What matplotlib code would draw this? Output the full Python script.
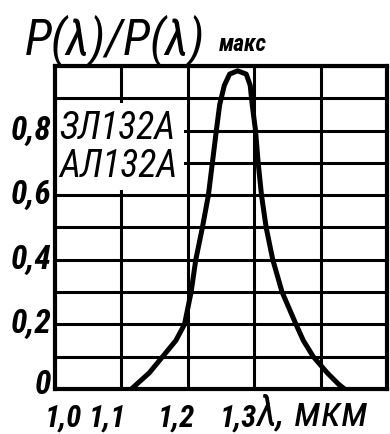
import matplotlib
matplotlib.use("Agg")
import matplotlib.pyplot as plt
from matplotlib.patches import Rectangle

# ---- data ----
wavelength_um = [1.115, 1.142, 1.162, 1.182, 1.195, 1.205, 1.212, 1.222, 1.231, 1.237,
                 1.243, 1.248, 1.255, 1.263, 1.275, 1.288, 1.294, 1.297, 1.302, 1.306,
                 1.311, 1.318, 1.328, 1.342, 1.363, 1.374, 1.389, 1.410, 1.427, 1.436]
rel_power = [0.000, 0.050, 0.100, 0.150, 0.200, 0.300, 0.400, 0.500, 0.600, 0.700,
             0.800, 0.880, 0.940, 0.975, 0.985, 0.975, 0.940, 0.880, 0.800, 0.700,
             0.600, 0.500, 0.400, 0.300, 0.200, 0.150, 0.100, 0.050, 0.015, 0.000]

x_ticks = [1.0, 1.1, 1.2, 1.3, 1.4, 1.5]
x_labels = ["1,0", "1,1", "1,2", "1,3", "", ""]
y_ticks = [0.0, 0.1, 0.2, 0.3, 0.4, 0.5, 0.6, 0.7, 0.8, 0.9, 1.0]
y_labels = ["0", "", "0,2", "", "0,4", "", "0,6", "", "0,8", "", ""]
device_names = ["ЗЛ132А", "АЛ132А"]
x_unit = "λ, мкм"
title_main = "P(λ)/P(λ)"
title_sub = "макс"

FONT = ["Roboto Condensed", "Liberation Sans Narrow", "Roboto", "DejaVu Sans"]
plt.rcParams["font.family"] = FONT

W, H = 390, 434
fig = plt.figure(figsize=(W / 100, H / 100), dpi=100)
ax = fig.add_axes([55 / W, 1 - 389 / H, (387 - 55) / W, (389 - 66) / H])

ax.set_xlim(1.0, 1.5)
ax.set_ylim(0.0, 1.0)
ax.set_xticks(x_ticks)
ax.set_xticklabels([""] * len(x_ticks))
ax.set_yticks(y_ticks)
ax.set_yticklabels([""] * len(y_ticks))
ax.tick_params(length=0)
ax.grid(True, color="black", lw=2.2, zorder=1)
ax.set_axisbelow(True)
for s in ax.spines.values():
    s.set_linewidth(3.0)
    s.set_zorder(5)

# y tick labels (the "0" sits a little above its line, as in the source)
for yv, lab in zip(y_ticks, y_labels):
    if not lab:
        continue
    ypos = yv + (0.012 if yv == 0 else 0.0)
    ax.text(-0.012, ypos, lab, fontsize=24, style="italic", fontweight="bold",
            ha="right", va="center", transform=ax.get_yaxis_transform())

# white box behind device names
ax.add_patch(Rectangle((1.0, 0.615), 0.194, 0.27, transform=ax.transData,
                       facecolor="white", edgecolor="none", zorder=2))
ax.text(1.006, 0.808, device_names[0], fontsize=27, style="italic",
        ha="left", va="center", zorder=3)
ax.text(1.006, 0.69, device_names[1], fontsize=27, style="italic",
        ha="left", va="center", zorder=3)

ax.plot(wavelength_um, rel_power, color="black", lw=3.6, zorder=4,
        solid_capstyle="round", solid_joinstyle="round")

# x tick labels (sit just left of their grid line, as in the source)
label_shift = [0.013, -0.021, -0.018, -0.024, 0.0, 0.0]
for xv, lab, dx in zip(x_ticks, x_labels, label_shift):
    if not lab:
        continue
    ax.text(xv + dx, -0.046, lab, fontsize=22, style="italic", fontweight="bold",
            ha="center", va="top", transform=ax.get_xaxis_transform())
ax.text(1.303, -0.015, x_unit, fontsize=31, style="italic",
        ha="left", va="top", transform=ax.get_xaxis_transform())

fig.text(25 / W, 1 - 55 / H, title_main, fontsize=36, style="italic",
         ha="left", va="baseline")
fig.text(219 / W, 1 - 51 / H, title_sub, fontsize=17, style="italic", fontweight="bold",
         ha="left", va="baseline")

fig.savefig("out.png", dpi=100, facecolor="white")
